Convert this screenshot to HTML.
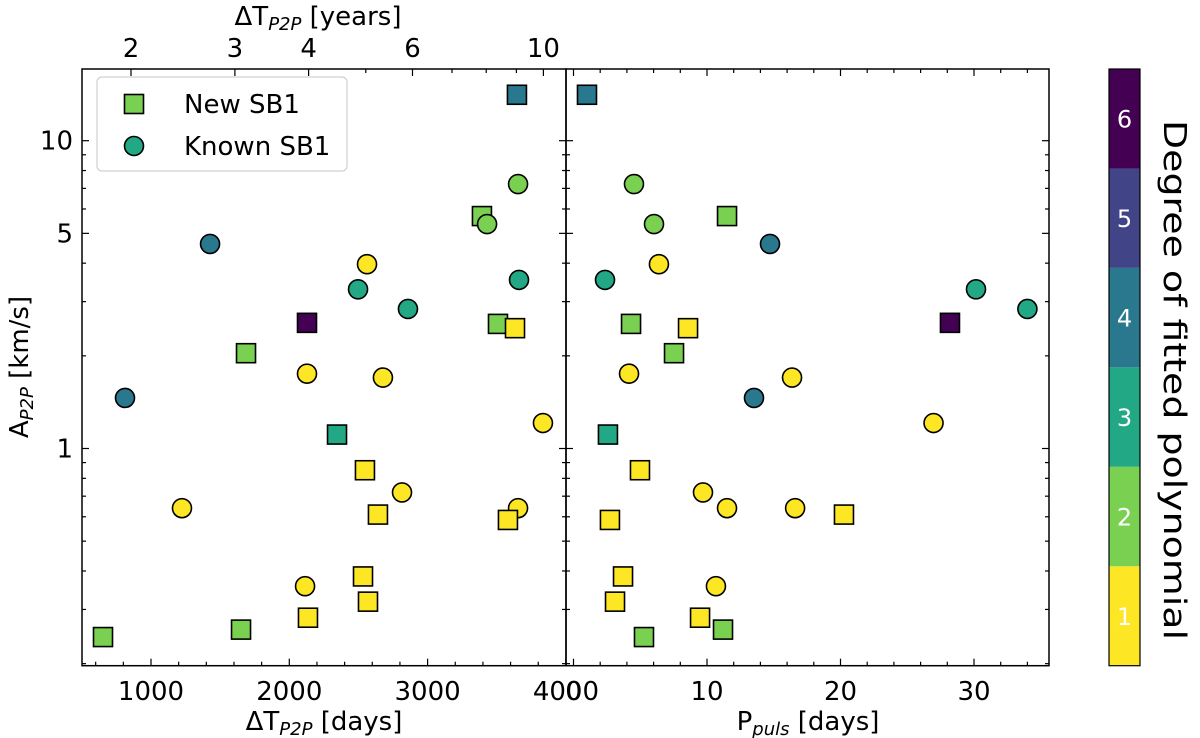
<!DOCTYPE html>
<html><head><meta charset="utf-8"><style>
html,body{margin:0;padding:0;background:#fff;}
svg{display:block;font-family:"DejaVu Sans","Liberation Sans",sans-serif;}
</style></head><body>
<svg id="chart" width="1200" height="738" viewBox="0 0 1200 738" xmlns="http://www.w3.org/2000/svg"></svg>
<script>
// ---- data ----
const dtDays   = [3646,3654,3393,3430,1427,2562,3661,2497,2858,2128,3509,3632,1687,2128,2677,812,3834,2345,2547,2815,1224,3654,2641,3581,2533,2114,2569,2135,1651,653];
const pulsDays = [1.01,4.53,11.5,6.03,14.72,6.4,2.36,30.15,34.0,28.2,4.31,8.58,7.53,4.16,16.37,13.52,26.97,2.58,4.98,9.7,11.5,16.6,20.26,2.73,3.71,10.67,3.11,9.48,11.2,5.28];
const ampKms   = [14.1,7.23,5.69,5.36,4.62,3.97,3.53,3.29,2.84,2.56,2.54,2.46,2.04,1.75,1.70,1.46,1.21,1.11,0.85,0.72,0.64,0.64,0.61,0.586,0.384,0.357,0.318,0.282,0.258,0.244];
const degrees  = [4,2,2,2,4,1,3,3,3,6,2,1,2,1,1,4,1,3,1,1,1,1,1,1,1,1,1,1,2,2];
const isNew    = [1,0,1,0,0,0,0,0,0,1,1,1,1,0,0,0,0,1,1,0,0,0,1,1,1,0,1,1,1,1];
const xTicksLeft  = [1000,2000,3000,4000];
const xTicksRight = [0,10,20,30];
const yTicks      = [1,5,10];
const yearTicks   = [2,3,4,6,10];
const yearMinor   = [5,7,8,9];
const cbLevels    = [1,2,3,4,5,6];
const viridis = {1:"#fde725",2:"#7ad151",3:"#22a884",4:"#2a788e",5:"#414487",6:"#440154"};

// ---- scales ----
const TOP=69, BOT=665.7;
const L0=82, L1=566, R0=566, R1=1049;
const yS = v => 448.5 - 307.8*Math.log10(v);
const xL = d => 151 + (d-1000)*0.1383;
const xR = p => 573.5 + p*13.35;
const xYr = y => 131 + 590*Math.log10(y/2);
const FS = 26;

const svg = document.getElementById('chart');
const NS = "http://www.w3.org/2000/svg";
function mk(tag, attrs, parent){ const e=document.createElementNS(NS,tag); for(const k in attrs) e.setAttribute(k,attrs[k]); (parent||svg).appendChild(e); return e; }
function txt(s, attrs, parent){ const e=mk('text',attrs,parent); e.textContent=s; return e; }

function panel(name){
  const g=mk('g',{});
  
  
  return g;
}
function tick(g,x1,y1,x2,y2){ mk('line',{x1,y1,x2,y2,stroke:'#000','stroke-width':1.2},g); }

function yAxisTicks(g,x0,x1){
  for(let dec=-1; dec<=1; dec++){
    for(let m=1;m<=9;m++){
      const v=m*Math.pow(10,dec); const y=yS(v);
      if(y<TOP||y>BOT) continue;
      const major=(v===1||v===10||v===5);
      const len= major?7:4;
      tick(g,x0,y,x0+len,y); tick(g,x1,y,x1-len,y);
    }
  }
}

// ---- left panel ----
const gl = panel('left-panel');
yAxisTicks(gl,L0,L1);
for(let d=600; d<=4000; d+=200){
  const x=xL(d); if(x<L0||x>L1+0.5) continue;
  const major = d%1000===0;
  tick(gl,x,BOT,x,BOT-(major?7:4));
}
xTicksLeft.forEach(d=>{
  const t=txt(String(d),{x:xL(d),y:700,'font-size':FS,'text-anchor':'middle'},gl);
  
  
});
yearTicks.forEach(yr=>{ const x=xYr(yr); tick(gl,x,TOP,x,TOP+7);
  const t=txt(String(yr),{x:x,y:57,'font-size':FS,'text-anchor':'middle'},gl);
  
  
});
yearMinor.forEach(yr=>{ const x=xYr(yr); tick(gl,x,TOP,x,TOP+4); });
yTicks.forEach(v=>{
  const t=txt(String(v),{x:L0-9,y:yS(v)+9,'font-size':FS,'text-anchor':'end'},gl);
  
  
});

// ---- right panel ----
const gr = panel('right-panel');
yAxisTicks(gr,R0,R1);
for(let p=0;p<=34;p+=2){
  const x=xR(p); if(x>R1) continue;
  const major=p%10===0;
  tick(gr,x,BOT,x,BOT-(major?7:4)); tick(gr,x,TOP,x,TOP+(major?7:4));
}
xTicksRight.forEach(p=>{
  const t=txt(String(p),{x:xR(p),y:700,'font-size':FS,'text-anchor':'middle'},gr);
  
  
});

// ---- markers ----
function marker(g,cx,cy,i){
  let e;
  if(isNew[i]) e=mk('rect',{x:cx-9.5,y:cy-9.5,width:19,height:19,fill:viridis[degrees[i]],stroke:'#000','stroke-width':1.6},g);
  else e=mk('circle',{cx:cx,cy:cy,r:9.5,fill:viridis[degrees[i]],stroke:'#000','stroke-width':1.6},g);
  return e;
}
dtDays.forEach((d,i)=>{
  const e=marker(gl,xL(d),yS(ampKms[i]),i);
  
  
});
pulsDays.forEach((p,i)=>{
  const e=marker(gr,xR(p),yS(ampKms[i]),i);
  
  
});

// frames
const fl=mk('rect',{x:L0,y:TOP,width:L1-L0,height:BOT-TOP,fill:'none',stroke:'#000','stroke-width':1.5});
 
const fr=mk('rect',{x:R0,y:TOP,width:R1-R0,height:BOT-TOP,fill:'none',stroke:'#000','stroke-width':1.5});
 

// ---- legend ----
const lg=mk('g',{});
 
mk('rect',{x:97,y:77,width:250,height:94,rx:5,fill:'#fff',stroke:'#d0d0d0','stroke-width':1.2},lg);
const l1=mk('rect',{x:124.5,y:94.5,width:19,height:19,fill:viridis[2],stroke:'#000','stroke-width':1.6},lg);
 
txt('New SB1',{x:184,y:113,'font-size':FS},lg);
const l2=mk('circle',{cx:134,cy:146,r:9.5,fill:viridis[3],stroke:'#000','stroke-width':1.6},lg);
 
txt('Known SB1',{x:184,y:155,'font-size':FS},lg);

// ---- colorbar ----
const cb=mk('g',{});
 
const CB0=1109, CBW=31, segH=(BOT-TOP)/cbLevels.length;
cbLevels.forEach((lv,k)=>{
  const y=BOT-(k+1)*segH;
  const r=mk('rect',{x:CB0,y:y,width:CBW,height:segH,fill:viridis[lv]},cb);
   
  txt(String(lv),{x:CB0+CBW/2,y:y+segH/2+9,'font-size':24,'text-anchor':'middle',fill:'#fff'},cb);
});
mk('rect',{x:CB0,y:TOP,width:CBW,height:BOT-TOP,fill:'none',stroke:'#000','stroke-width':1.2},cb);
</script>
<svg width="1200" height="738" style="position:absolute;left:0;top:0;font-family:'DejaVu Sans','Liberation Sans',sans-serif" xmlns="http://www.w3.org/2000/svg">
  <text x="324" y="730" font-size="26" text-anchor="middle">ΔT<tspan font-size="18" font-style="italic" dy="5">P2P</tspan><tspan dy="-5"> [days]</tspan></text>
  <text x="808" y="730" font-size="26" text-anchor="middle">P<tspan font-size="18" font-style="italic" dy="5">puls</tspan><tspan dy="-5"> [days]</tspan></text>
  <text x="318" y="25" font-size="26" text-anchor="middle">ΔT<tspan font-size="18" font-style="italic" dy="5">P2P</tspan><tspan dy="-5"> [years]</tspan></text>
  <text transform="translate(28,367) rotate(-90)" font-size="26" text-anchor="middle">A<tspan font-size="18" font-style="italic" dy="5">P2P</tspan><tspan dy="-5"> [km/s]</tspan></text>
  <text transform="translate(1164,380) rotate(90)" font-size="31" text-anchor="middle" textLength="520" lengthAdjust="spacingAndGlyphs">Degree of fitted polynomial</text>
</svg>
</body></html>
